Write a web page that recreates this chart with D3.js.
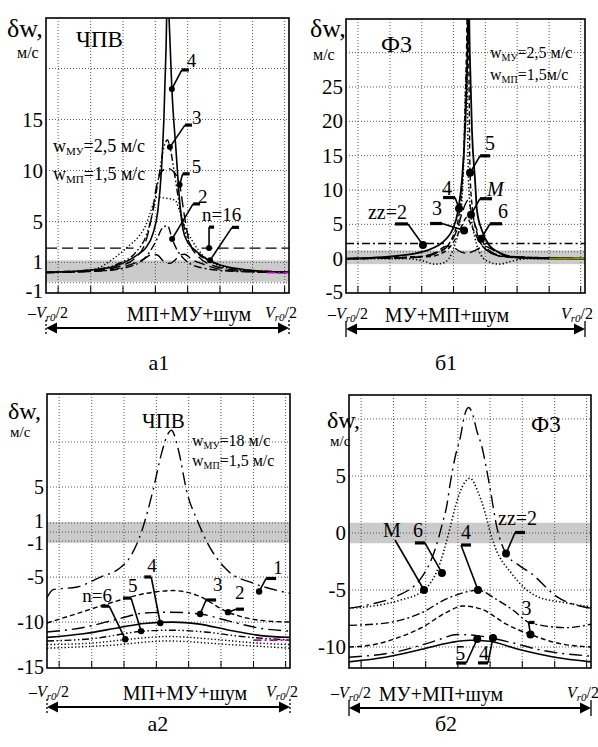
<!DOCTYPE html>
<html>
<head>
<meta charset="utf-8">
<script src="https://cdn.jsdelivr.net/npm/d3@7"></script>
</head>
<body style="margin:0">
<div id="chart"></div>
<script>
'use strict';

const serif = "Liberation Serif";

// ---- shared x grid (fraction of the -Vr0/2 .. Vr0/2 range) ----
const gridX = [-0.45, -0.316, -0.183, -0.05, 0.083, 0.216, 0.35, 0.482];

// ---- panel a1 (ЧПВ, wМУ=2,5) ----
const a1YTicks = [15, 10, 5, 1, -1];
const a1YGrid = [20, 15, 10, 5, 1, -1];
const a1Band = [-0.9, 1.2];
const a1N4 = [[-0.5,0.05],[-0.4,0.1],[-0.3,0.3],[-0.22,0.6],[-0.16,1.2],[-0.12,1.8],[-0.09,2.4],[-0.06,3.8],[-0.04,6],[-0.025,10],[-0.015,15],[-0.006,22],[0,28],[0.008,24],[0.018,18],[0.035,12],[0.05,7],[0.064,4.2],[0.085,2.9],[0.113,2.2],[0.15,1.5],[0.2,0.9],[0.3,0.35],[0.4,0.12],[0.5,0.05]];
const a1N3 = [[-0.5,0.05],[-0.3,0.3],[-0.2,0.9],[-0.13,2],[-0.09,3.5],[-0.06,6],[-0.035,9.5],[-0.015,12.3],[0,13],[0.01,12.3],[0.03,9.5],[0.05,6.5],[0.08,3.5],[0.12,2],[0.2,0.9],[0.3,0.3],[0.5,0.05]];
const a1N5 = [[-0.5,0],[-0.3,0.2],[-0.2,0.6],[-0.13,1.5],[-0.09,3],[-0.065,5.5],[-0.045,8.5],[-0.02,10],[0,10.2],[0.02,10],[0.05,8.6],[0.07,5.5],[0.09,3],[0.13,1.5],[0.2,0.6],[0.3,0.2],[0.5,0]];
const a1N2 = [[-0.5,0],[-0.25,0.2],[-0.13,0.8],[-0.08,1.8],[-0.045,3.2],[-0.02,4.4],[0,4.6],[0.019,3.3],[0.04,2.2],[0.07,1.3],[0.12,0.6],[0.25,0.15],[0.5,0]];
const a1Dotted = [[-0.5,0],[-0.35,0.1],[-0.3,0.3],[-0.215,1.5],[-0.16,2.6],[-0.12,3.5],[-0.09,4.6],[-0.072,5.8],[-0.043,7.4],[-0.01,7.3],[0.031,7.1],[0.05,6],[0.072,4.5],[0.1,3.2],[0.154,1.5],[0.2,0.8],[0.25,0.4],[0.35,0.1],[0.5,0]];
const a1Hump = [[-0.5,0],[-0.25,0.2],[-0.15,0.8],[-0.1,1.3],[-0.06,1.8],[-0.04,1.7],[-0.02,1.2],[0.01,0.9],[0.03,1.2],[0.05,1.7],[0.07,1.8],[0.1,1.3],[0.15,0.8],[0.25,0.2],[0.5,0]];
const a1LevelL = [[-0.5,2.4],[-0.14,2.4]];
const a1LevelR = [[0.14,2.4],[0.5,2.4]];
const a1Tail = [[0.41,0],[0.5,0]];
const a1MarkText = ["4", "3", "5", "2", "", "n=16"];
const a1MarkX = [0.018, 0.01, 0.05, 0.019, 0.171, 0.175];
const a1MarkV = [18, 12.3, 8.6, 3.3, 2.4, 1.2];

// ---- panel б1 (Ф3, wМУ=2,5) ----
const b1YTicks = [25, 20, 15, 10, 5, 0, -5];
const b1YGrid = [30, 25, 20, 15, 10, 5, 1];
const b1Band = [-0.8, 1.2];
const b1N4 = [[-0.5,0],[-0.4,0.1],[-0.3,0.35],[-0.22,0.7],[-0.16,1.2],[-0.115,1.9],[-0.08,2.9],[-0.056,4.1],[-0.031,7],[-0.015,11.4],[-0.002,18.7],[0.008,30],[0.012,40],[0.018,30],[0.027,18.7],[0.04,11.4],[0.048,7],[0.069,4.1],[0.1,1.9],[0.13,1.1],[0.17,0.4],[0.25,0.1],[0.5,0]];
const b1N5 = [[-0.5,0],[-0.2,0.3],[-0.1,1.2],[-0.05,3.5],[-0.025,7],[-0.01,13],[0.004,30],[0.01,40],[0.015,25],[0.019,12.5],[0.03,7],[0.05,3.5],[0.08,1.5],[0.15,0.4],[0.5,0]];
const b1M = [[-0.5,0],[-0.25,0],[-0.18,-0.3],[-0.13,-0.8],[-0.1,-0.7],[-0.07,0],[-0.045,2],[-0.025,5],[-0.01,12],[0.005,28],[0.012,12],[0.023,6.4],[0.04,3],[0.065,0.5],[0.1,-0.5],[0.14,-0.8],[0.19,-0.4],[0.26,0],[0.5,0]];
const b1N3 = [[-0.5,0],[-0.15,0.3],[-0.08,1.2],[-0.04,3],[-0.015,4.8],[0.005,6],[0.025,4.8],[0.05,3],[0.09,1.2],[0.16,0.3],[0.5,0]];
const b1N6 = [[-0.5,0],[-0.2,0.2],[-0.12,0.8],[-0.07,2],[-0.04,3.8],[-0.02,6],[0,8],[0.01,8.5],[0.03,6],[0.05,4],[0.065,2.9],[0.09,1.5],[0.14,0.5],[0.22,0.1],[0.5,0]];
const b1Hump = [[-0.5,0],[-0.2,0.2],[-0.12,1],[-0.08,1.8],[-0.05,1.6],[-0.02,1],[0.01,0.8],[0.04,1.2],[0.08,1.8],[0.12,1.2],[0.2,0.3],[0.5,0]];
const b1LevelL = [[-0.5,2.2],[-0.09,2.2]];
const b1LevelR = [[0.08,2.2],[0.5,2.2]];
const b1Tail = [[0.35,0],[0.5,0]];
const b1MarkText = ["5", "4", "M", "3", "6", "zz=2"];
const b1MarkX = [0.019, -0.027, 0.023, -0.006, 0.065, -0.178];
const b1MarkV = [12.5, 7.3, 6.4, 4.1, 2.9, 2.0];

// ---- panel а2 (ЧПВ, wМУ=18) ----
const a2YTicks = [5, 1, -1, -5, -10, -15];
const a2YGrid = [10, 5, 1, 0, -1, -5, -10];
const a2Band = [-1.2, 1.1];
const a2N1 = [[-0.5,-7.3],[-0.475,-6.4],[-0.376,-6.1],[-0.28,-5],[-0.2,-4],[-0.166,-3.1],[-0.109,0.2],[-0.063,4.7],[-0.03,8.6],[0,11],[0.012,11.3],[0.04,9.2],[0.077,4.3],[0.12,1.2],[0.16,-1.2],[0.24,-4.2],[0.35,-5.7],[0.42,-6.3],[0.5,-6.8]];
const a2N2 = [[-0.5,-10.1],[-0.37,-9],[-0.23,-7.8],[-0.09,-6.8],[0.02,-6.5],[0.115,-7],[0.245,-8.9],[0.375,-9.8],[0.5,-10]];
const a2N3 = [[-0.5,-11.1],[-0.35,-10.6],[-0.2,-9.6],[-0.1,-9.0],[0,-8.9],[0.13,-9.1],[0.25,-9.9],[0.38,-10.7],[0.5,-11]];
const a2N4 = [[-0.5,-11.7],[-0.35,-11.3],[-0.2,-10.6],[-0.1,-10.15],[0.02,-10.0],[0.12,-10.2],[0.25,-10.9],[0.38,-11.5],[0.5,-11.7]];
const a2N5 = [[-0.5,-12.1],[-0.3,-11.8],[-0.12,-11.05],[0,-10.9],[0.15,-11.1],[0.3,-11.6],[0.5,-12.0]];
const a2N6 = [[-0.5,-12.5],[-0.3,-12.3],[-0.178,-11.95],[0,-11.6],[0.18,-11.9],[0.35,-12.3],[0.5,-12.5]];
const a2Low = [[-0.5,-12.9],[-0.25,-12.6],[0,-12.1],[0.25,-12.5],[0.5,-12.9]];
const a2Tail = [[0.35,-12],[0.5,-12]];
const a2MarkText = ["n=6", "5", "4", "3", "2", "1"];
const a2MarkX = [-0.178, -0.113, -0.034, 0.13, 0.245, 0.373];
const a2MarkV = [-11.9, -11.0, -10.1, -9.1, -8.9, -6.6];

// ---- panel б2 (Ф3, wМУ=18) ----
const b2YTicks = [5, 0, -5, -10];
const b2YGrid = [10, 5, 0, -5, -10];
const b2Band = [-0.9, 0.9];
const b2Zz2 = [[-0.5,-6.6],[-0.4,-6.2],[-0.31,-5.6],[-0.2,-3.9],[-0.145,-1.5],[-0.112,1],[-0.095,2.5],[-0.083,4.2],[-0.062,6.6],[-0.041,8.3],[-0.02,10.5],[-0.006,11],[0.008,10.6],[0.029,8.9],[0.05,7.5],[0.07,5.4],[0.083,3.9],[0.112,0.4],[0.149,-1.8],[0.2,-2.8],[0.25,-3.5],[0.36,-5.6],[0.5,-6.6]];
const b2Dotted = [[-0.5,-6.6],[-0.4,-6.4],[-0.29,-5.9],[-0.19,-5],[-0.13,-3],[-0.083,0.4],[-0.062,2.2],[-0.033,4],[0,4.8],[0.033,3.6],[0.062,1.8],[0.083,0.1],[0.103,-1.2],[0.17,-3.5],[0.28,-5.6],[0.39,-6.1],[0.5,-6.5]];
const b2N4 = [[-0.5,-8.1],[-0.35,-7.9],[-0.2,-7.0],[-0.1,-5.8],[0,-5.1],[0.033,-5],[0.1,-5.7],[0.18,-6.8],[0.25,-7.9],[0.4,-8.3],[0.5,-8.0]];
const b2N3 = [[-0.5,-10],[-0.4,-9.8],[-0.3,-9.2],[-0.2,-8.3],[-0.1,-7],[-0.03,-6.4],[0.05,-6.7],[0.15,-8],[0.25,-8.9],[0.35,-9.6],[0.5,-10]];
const b2N5 = [[-0.5,-10.9],[-0.3,-10.4],[-0.15,-9.5],[-0.05,-8.9],[0.03,-9],[0.15,-9.5],[0.3,-10.3],[0.5,-10.8]];
const b2Solid = [[-0.5,-11.3],[-0.35,-10.9],[-0.2,-10.2],[-0.08,-9.6],[0,-9.4],[0.08,-9.5],[0.2,-10.2],[0.35,-10.9],[0.5,-11.3]];
const b2MarkText = ["M", "6", "4", "zz=2", "3", "5", "4"];
const b2MarkX = [-0.19, -0.116, 0.033, 0.149, 0.25, 0.03, 0.095];
const b2MarkV = [-5, -3.5, -5, -1.8, -8.9, -9.3, -9.2];

// ---- line styles ----
const dashes = {
    solid: null,
    dot: "1.3,2.2",
    dash: "5,3",
    longdash: "11,5",
    dashdot: "8,3,2,3",
    dashdotdot: "7,2.5,1.5,2.5,1.5,2.5",
    longdashdot: "13,5,2,5"
};

const svg = d3.select("#chart").append("svg")
    .attr("width", 598)
    .attr("height", 747)
    .style("display", "block");

svg.append("rect").attr("width", 598).attr("height", 747).attr("fill", "#fff");

const txt = (g, x, y, str, size, anchor, italic) => {
    return g.append("text")
        .attr("x", x)
        .attr("y", y)
        .attr("text-anchor", anchor || "start")
        .style("font-family", serif)
        .style("font-size", size + "px")
        .style("font-style", italic ? "italic" : "normal")
        .text(str);
}

// w with a subscript, e.g. wМУ=2,5 м/с
const wLabel = (g, x, y, sub, rest, size) => {
    const t = g.append("text")
        .attr("x", x).attr("y", y)
        .style("font-family", serif)
        .style("font-size", size + "px");
    t.append("tspan").text("w");
    t.append("tspan").attr("dy", 3).style("font-size", Math.round(size * 0.62) + "px").text(sub);
    t.append("tspan").attr("dy", -3).text(rest);
}

// -Vr0/2 and Vr0/2
const vrLabel = (g, x, y, neg, anchor) => {
    const t = g.append("text")
        .attr("x", x).attr("y", y)
        .attr("text-anchor", anchor)
        .style("font-family", serif)
        .style("font-size", "16px");
    if (neg) t.append("tspan").text("–");
    t.append("tspan").style("font-style", "italic").text("V");
    t.append("tspan").attr("dy", 3).style("font-style", "italic").style("font-size", "11px").text("r0");
    t.append("tspan").attr("dy", -3).text("/2");
}

let clipId = 0;

const drawPanel = (p) => {
    const g = svg.append("g");
    const x = d3.scaleLinear().domain([-0.5, 0.5]).range([p.x0, p.x1]);
    const y = d3.scaleLinear().domain(p.yDomain).range([p.y1, p.y0]);

    const id = "clip" + (clipId++);
    svg.append("clipPath").attr("id", id)
        .append("rect").attr("x", p.x0).attr("y", p.y0)
        .attr("width", p.x1 - p.x0).attr("height", p.y1 - p.y0);

    // grey tolerance band
    g.append("rect")
        .attr("x", p.x0).attr("width", p.x1 - p.x0)
        .attr("y", y(p.band[1])).attr("height", y(p.band[0]) - y(p.band[1]))
        .attr("fill", "#cbcbcb");

    // dotted grid
    g.selectAll(".gx").data(gridX).enter().append("line")
        .attr("x1", d => x(d)).attr("x2", d => x(d))
        .attr("y1", p.y0).attr("y2", p.y1)
        .attr("stroke", "#444").attr("stroke-width", 0.9).attr("stroke-dasharray", "1,2");
    g.selectAll(".gy").data(p.grid).enter().append("line")
        .attr("x1", p.x0).attr("x2", p.x1)
        .attr("y1", d => y(d)).attr("y2", d => y(d))
        .attr("stroke", "#444").attr("stroke-width", 0.9).attr("stroke-dasharray", "1,2");

    // small ticks at the bottom
    g.selectAll(".tk").data(gridX).enter().append("line")
        .attr("x1", d => x(d)).attr("x2", d => x(d))
        .attr("y1", p.y1).attr("y2", p.y1 - 7)
        .attr("stroke", "#000").attr("stroke-width", 1);

    // curves
    const line = d3.line()
        .x(d => x(d[0]))
        .y(d => y(d[1]))
        .curve(d3.curveMonotoneX);
    const cg = g.append("g").attr("clip-path", "url(#" + id + ")");
    p.curves.forEach(c => {
        cg.append("path")
            .attr("d", line(c.d))
            .attr("fill", "none")
            .attr("stroke", c.c || "#000")
            .attr("stroke-width", c.w || 1.4)
            .attr("stroke-dasharray", dashes[c.s]);
    });

    // frame
    g.append("rect")
        .attr("x", p.x0).attr("y", p.y0)
        .attr("width", p.x1 - p.x0).attr("height", p.y1 - p.y0)
        .attr("fill", "none").attr("stroke", "#000").attr("stroke-width", 1.6);

    // y tick labels
    p.ticks.forEach(v => {
        const shift = (p.tickShift && p.tickShift[v]) || 0;
        txt(g, p.x0 - 3, y(v) + 7 + shift, String(v), p.tickSize, "end");
    });

    // curve labels with leaders
    p.markText.forEach((t, i) => {
        const L = p.layout[i];
        const dx = x(p.markX[i]), dy = y(p.markV[i]);
        const px = dx + L[0], py = dy + L[1];
        g.append("line").attr("x1", dx).attr("y1", dy).attr("x2", px).attr("y2", py)
            .attr("stroke", "#000").attr("stroke-width", 1.6);
        if (L[2] !== 0) {
            g.append("line").attr("x1", px).attr("y1", py).attr("x2", px + L[2]).attr("y2", py)
                .attr("stroke", "#000").attr("stroke-width", 3.2);
        }
        g.append("circle").attr("cx", dx).attr("cy", dy).attr("r", p.dotR).attr("fill", "#000");
        if (t) txt(g, px + L[3], py + L[4], t, p.markSize, "start", t === "M" && p.italicM);
    });

    // bottom axis: -Vr0/2 ... Vr0/2 and the double arrow
    vrLabel(g, p.x0 - 18, p.axisY - 10, true, "start");
    vrLabel(g, p.x1 + 8, p.axisY - 10, false, "end");
    txt(g, p.midX, p.axisY - 7, p.axisText, 20, "middle");
    g.append("line").attr("x1", p.x0 + 8).attr("x2", p.x1 - 8)
        .attr("y1", p.axisY).attr("y2", p.axisY)
        .attr("stroke", "#000").attr("stroke-width", 2);
    g.append("path")
        .attr("d", "M" + p.x0 + "," + p.axisY + "l11,-5.5v11z M" + p.x1 + "," + p.axisY + "l-11,-5.5v11z")
        .attr("fill", "#000");
    [p.x0, p.x1].forEach(ex => {
        g.append("line").attr("x1", ex).attr("x2", ex)
            .attr("y1", p.axisY - 8).attr("y2", p.axisY + 8)
            .attr("stroke", "#000").attr("stroke-width", 1.3)
            .attr("stroke-dasharray", p.dotEnds ? "2,2" : null);
    });
    txt(g, p.capX, p.capY, p.caption, 22, "middle");

    return g;
}

// ---- a1 ----
const ga1 = drawPanel({
    x0: 46, x1: 289, y0: 18, y1: 293, yDomain: [-2, 24.95],
    ticks: a1YTicks, grid: a1YGrid, band: a1Band, tickShift: { "-1": 8 }, tickSize: 21,
    curves: [
        { d: a1Hump, s: "longdash" }, { d: a1LevelL, s: "longdash" }, { d: a1LevelR, s: "longdash" },
        { d: a1Dotted, s: "dot" }, { d: a1N2, s: "dashdot" }, { d: a1N5, s: "longdash" },
        { d: a1N3, s: "dashdotdot" }, { d: a1N4, s: "solid", w: 1.6 },
        { d: a1Tail, s: "dashdot", c: "#c000c0", w: 1.8 }
    ],
    markText: a1MarkText, markX: a1MarkX, markV: a1MarkV, markSize: 19, dotR: 3,
    layout: [[10, -19, 7, 5, -3], [15, -22, 7, 7, -1], [3, -11, 7, 9, -1], [21, -35, 7, 5, -1], [0, -21, 5, 0, 0], [22, -33, 7, -30, -6]],
    axisY: 328, midX: 189, axisText: "МП+МУ+шум", caption: "а1", capX: 159, capY: 370, dotEnds: true
});
txt(ga1, 7, 37, "δw,", 26, "start");
txt(ga1, 17, 58, "м/с", 16, "start");
txt(ga1, 76, 47, "ЧПВ", 23, "start");
wLabel(ga1, 53, 152, "МУ", "=2,5 м/с", 18);
wLabel(ga1, 53, 180, "МП", "=1,5 м/с", 18);

// ---- б1 ----
const gb1 = drawPanel({
    x0: 346, x1: 585, y0: 19, y1: 293, yDomain: [-5, 34.9],
    ticks: b1YTicks, grid: b1YGrid, band: b1Band, tickShift: { "-5": -1 }, tickSize: 21,
    curves: [
        { d: b1Hump, s: "longdash" }, { d: b1LevelL, s: "dashdot" }, { d: b1LevelR, s: "dashdot" },
        { d: b1N6, s: "longdash" }, { d: b1N3, s: "dash" }, { d: b1M, s: "dot", w: 1.6 },
        { d: b1N5, s: "dash" }, { d: b1N4, s: "solid", w: 1.8 },
        { d: b1Tail, s: "solid", c: "#8c8c00", w: 1.6 }
    ],
    markText: b1MarkText, markX: b1MarkX, markV: b1MarkV, markSize: 20, dotR: 4, italicM: true,
    layout: [[10, -17, 10, 5, -6], [-4, -11, -12, -13, -3], [9, -16, 12, 7, -3], [-22, -7, -12, -10, -9], [9, -15, 12, 8, -6], [-15, -21, -13, -40, -5]],
    axisY: 329, midX: 447, axisText: "МУ+МП+шум", caption: "б1", capX: 446, capY: 370, dotEnds: false
});
txt(gb1, 310, 37, "δw,", 26, "start");
txt(gb1, 313, 60, "м/с", 16, "start");
txt(gb1, 381, 52, "Ф3", 24, "start");
wLabel(gb1, 490, 58, "МУ", "=2,5 м/с", 16);
wLabel(gb1, 490, 80, "МП", "=1,5м/с", 16);

// ---- а2 ----
const ga2 = drawPanel({
    x0: 47, x1: 290, y0: 394, y1: 668, yDomain: [-15.1, 15.33],
    ticks: a2YTicks, grid: a2YGrid, band: a2Band, tickShift: { "1": -2, "-1": 2 }, tickSize: 20,
    curves: [
        { d: a2Low, s: "dot" }, { d: a2N6, s: "dot" }, { d: a2N5, s: "dashdotdot" },
        { d: a2N4, s: "solid", w: 1.6 }, { d: a2N3, s: "longdashdot" }, { d: a2N2, s: "dash" },
        { d: a2N1, s: "longdashdot" }, { d: a2Tail, s: "dashdot", c: "#c000c0", w: 1.8 }
    ],
    markText: a2MarkText, markX: a2MarkX, markV: a2MarkV, markSize: 19, dotR: 3.2,
    layout: [[-16, -33, -8, -27, -4], [-10, -33, -8, -3, -6], [-9, -46, -7, -4, -5], [6, -14, 10, 7, -9], [8, -3, 8, -1, -10], [7, -13, 10, 7, -4]],
    axisY: 707, midX: 185, axisText: "МП+МУ+шум", caption: "а2", capX: 158, capY: 731, dotEnds: true
});
txt(ga2, 8, 419, "δw,", 24, "start");
txt(ga2, 10, 437, "м/с", 15, "start");
txt(ga2, 142, 428, "ЧПВ", 21, "start");
wLabel(ga2, 192, 446, "МУ", "=18 м/с", 16);
wLabel(ga2, 192, 466, "МП", "=1,5 м/с", 16);

// ---- б2 ----
const gb2 = drawPanel({
    x0: 349, x1: 591, y0: 395, y1: 668, yDomain: [-11.84, 12.1],
    ticks: b2YTicks, grid: b2YGrid, band: b2Band, tickSize: 21,
    curves: [
        { d: b2Solid, s: "solid", w: 1.6 }, { d: b2N5, s: "longdashdot" }, { d: b2N3, s: "dash" },
        { d: b2N4, s: "dashdot" }, { d: b2Dotted, s: "dot", w: 1.6 }, { d: b2Zz2, s: "longdashdot" }
    ],
    markText: b2MarkText, markX: b2MarkX, markV: b2MarkV, markSize: 20, dotR: 4,
    layout: [[-29, -50, 0, -12, -3], [-17, -30, -10, -12, -6], [-17, -45, 10, 0, -6], [9, -21, 10, -17, -8], [-2, -12, 6, -7, -7], [-11, 24, -10, -11, -3], [-5, 25, -10, -9, -3]],
    axisY: 708, midX: 441, axisText: "МУ+МП+шум", caption: "б2", capX: 446, capY: 731, dotEnds: false
});
txt(gb2, 327, 428, "δw,", 24, "start");
txt(gb2, 330, 446, "м/с", 15, "start");
txt(gb2, 531, 432, "Ф3", 23, "start");
</script>
</body>
</html>
